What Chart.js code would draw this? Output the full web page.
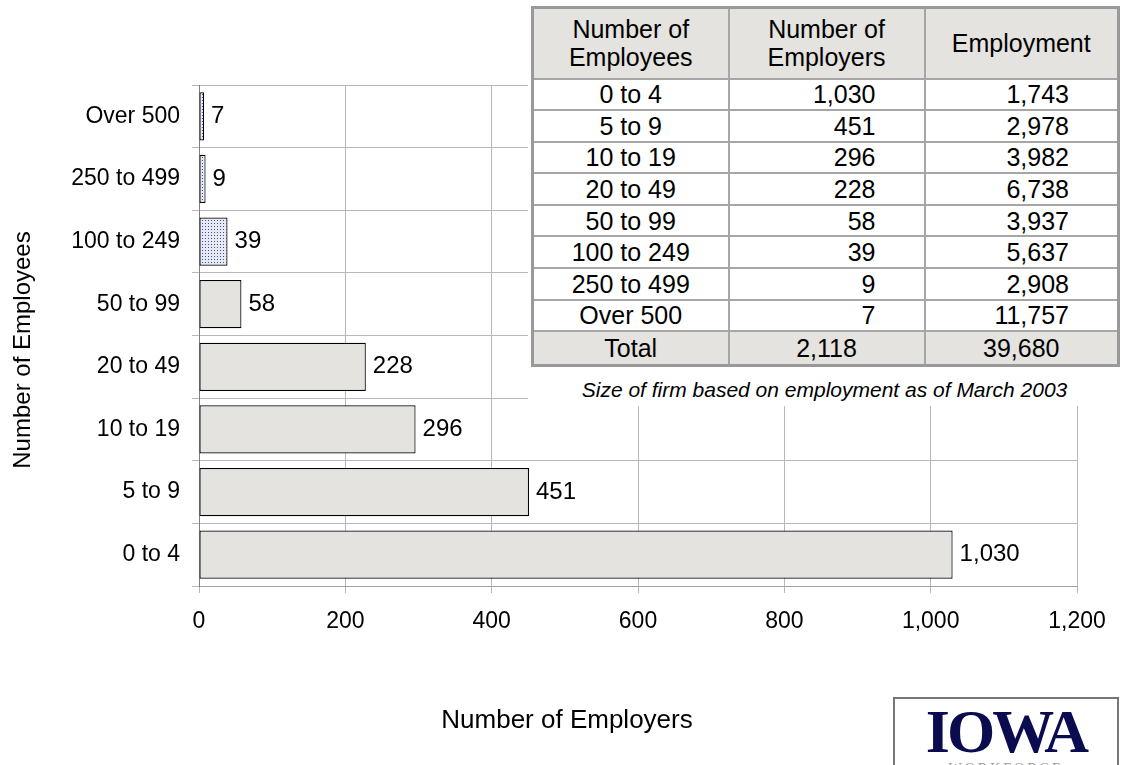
<!DOCTYPE html>
<html>
<head>
<meta charset="utf-8">
<script src="https://cdn.jsdelivr.net/npm/chart.js@4.4.1/dist/chart.umd.min.js"></script>
<style>
  html, body { margin: 0; padding: 0; background: #fff; overflow: hidden; }
  body { width: 1129px; height: 765px; position: relative; font-family: "Liberation Sans", Arial, sans-serif; }
  #wrap { position: absolute; left: 0; top: 0; width: 1129px; height: 765px; }
  #box { position: absolute; left: 528px; top: 0; width: 601px; height: 406px; background: #fff; }
  table { position: absolute; left: 3px; top: 6px; width: 586px; table-layout: fixed; border-collapse: collapse; border: 3px solid #999; font-size: 25px; color: #000; }
  td, th { border: 2px solid #a6a6a6; padding: 0; font-weight: normal; line-height: 28px; overflow: hidden; white-space: nowrap; }
  tr { height: 31.6px; }
  tr.head { height: 71px; }
  th { background: #e4e3df; }
  tr.total { height: 34px; }
  tr.total td { background: #e4e3df; }
  td.c1 { text-align: center; }
  td.c2, td.c3 { text-align: right; padding-right: 48px; }
  #caption { position: absolute; left: 0; top: 378px; width: 593px; text-align: center; font-style: italic; font-size: 21px; }
  #logo { position: absolute; left: 893px; top: 697px; width: 222px; height: 80px; border: 2px solid #777; background: #fff; overflow: hidden; text-align: center; }
  #logo .big { font-family: "Liberation Serif", serif; font-weight: bold; font-size: 62px; color: #0b0b50; line-height: 50px; margin-top: 7px; letter-spacing: -3px; }
  #logo .small { font-family: "Liberation Serif", serif; font-size: 14px; color: #999; letter-spacing: 3px; line-height: 16px; margin-top: 5px; }
</style>
</head>
<body>
<div id="wrap"><canvas id="chart" width="1129" height="765"></canvas></div>
<div id="box">
  <table id="tbl">
    <colgroup><col style="width:196px"><col style="width:196px"><col style="width:194px"></colgroup>
  </table>
  <div id="caption">Size of firm based on employment as of March 2003</div>
</div>
<div id="logo"><div class="big">IOWA</div><div class="small">WORKFORCE</div></div>
<script>
// chart categories, top to bottom
const categories = ["Over 500", "250 to 499", "100 to 249", "50 to 99", "20 to 49", "10 to 19", "5 to 9", "0 to 4"];
const employers = [7, 9, 39, 58, 228, 296, 451, 1030];
const xTicks = [0, 200, 400, 600, 800, 1000, 1200];

// table rows
const tableSizes = ["0 to 4", "5 to 9", "10 to 19", "20 to 49", "50 to 99", "100 to 249", "250 to 499", "Over 500"];
const tableEmployers = [1030, 451, 296, 228, 58, 39, 9, 7];
const tableEmployment = [1743, 2978, 3982, 6738, 3937, 5637, 2908, 11757];
const totalEmployers = 2118;
const totalEmployment = 39680;

const fmt = v => v.toLocaleString("en-US");

// build table
const tbl = document.getElementById("tbl");
let html = "<tr class='head'><th>Number of<br>Employees</th><th>Number of<br>Employers</th><th>Employment</th></tr>";
tableSizes.forEach((s, i) => {
    html += `<tr><td class="c1">${s}</td><td class="c2">${fmt(tableEmployers[i])}</td><td class="c3">${fmt(tableEmployment[i])}</td></tr>`;
});
html += `<tr class="total"><td class="c1">Total</td><td class="c1">${fmt(totalEmployers)}</td><td class="c1">${fmt(totalEmployment)}</td></tr>`;
tbl.insertAdjacentHTML("beforeend", html);

// dotted fill for the large-firm bars
function dotPattern() {
    const c = document.createElement("canvas");
    c.width = 3; c.height = 3;
    const g = c.getContext("2d");
    g.fillStyle = "#e6e8f2";
    g.fillRect(0, 0, 3, 3);
    g.fillStyle = "#3b4ba8";
    g.fillRect(1, 1, 1, 1);
    return g.createPattern(c, "repeat");
}
const dots = dotPattern();
const plain = "#e4e3df";
const barColors = categories.map((c, i) => employers[i] < 50 ? dots : plain);

const FONT = "Liberation Sans";

// value labels to the right of each bar
const valueLabels = {
    id: "valueLabels",
    afterDatasetsDraw(chart) {
        const ctx = chart.ctx;
        ctx.save();
        ctx.font = "24px '" + FONT + "'";
        ctx.fillStyle = "#000";
        ctx.textAlign = "left";
        ctx.textBaseline = "middle";
        chart.getDatasetMeta(0).data.forEach((bar, i) => {
            ctx.fillText(fmt(employers[i]), bar.x + 7, bar.y);
        });
        ctx.restore();
    }
};

// axis titles, placed where the original has them
const axisTitles = {
    id: "axisTitles",
    afterDraw(chart) {
        const ctx = chart.ctx;
        ctx.save();
        ctx.fillStyle = "#000";
        ctx.textAlign = "center";
        ctx.textBaseline = "middle";
        ctx.font = "26px '" + FONT + "'";
        ctx.fillText("Number of Employers", 567, 721);
        ctx.translate(23, 350);
        ctx.rotate(-Math.PI / 2);
        ctx.font = "24px '" + FONT + "'";
        ctx.fillText("Number of Employees", 0, 0);
        ctx.restore();
    }
};

Chart.defaults.font.family = FONT;
Chart.defaults.color = "#000";

new Chart(document.getElementById("chart").getContext("2d"), {
    type: "bar",
    data: {
        labels: categories,
        datasets: [{
            data: employers,
            backgroundColor: barColors,
            borderColor: "#000",
            borderWidth: 1.2,
            borderSkipped: false,
            categoryPercentage: 1,
            barPercentage: 0.77
        }]
    },
    options: {
        indexAxis: "y",
        responsive: false,
        animation: false,
        layout: { padding: { left: 0, top: 85, right: 52, bottom: 0 } },
        plugins: { legend: { display: false }, tooltip: { enabled: false } },
        scales: {
            x: {
                min: 0,
                max: 1200,
                afterBuildTicks: s => { s.ticks = xTicks.map(v => ({ value: v })); },
                ticks: { font: { size: 23 }, padding: 15, maxRotation: 0, callback: v => fmt(v) },
                grid: { color: "#b8b8b8", tickLength: 7 },
                border: { color: "#a0a0a0" },
                afterFit: s => { s.height = 765 - 586; }
            },
            y: {
                ticks: { font: { size: 23 }, padding: 12 },
                grid: { color: "#b8b8b8", tickLength: 7, offset: true },
                border: { color: "#808080" },
                afterFit: s => { s.width = 199; }
            }
        }
    },
    plugins: [valueLabels, axisTitles]
});
</script>
</body>
</html>
